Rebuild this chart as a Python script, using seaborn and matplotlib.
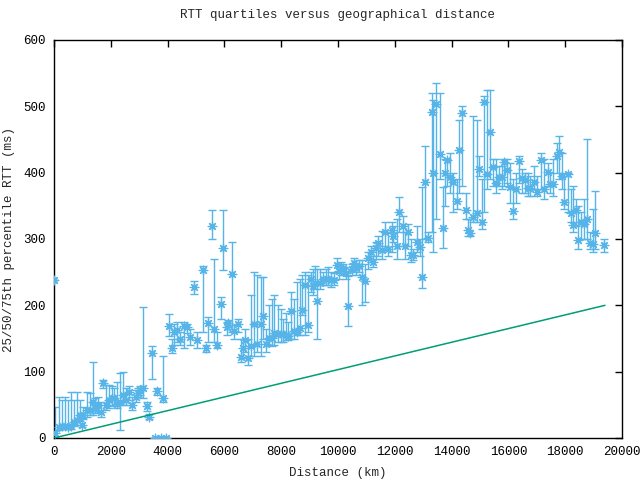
import matplotlib
matplotlib.use("Agg")
import matplotlib.pyplot as plt
import seaborn as sns
import pandas as pd

# distance (km), median RTT, 25th and 75th percentile (ms)
distance = [0, 35, 175, 280, 390, 490, 600, 700, 810, 920, 985, 1020, 1160, 1270, 1370, 1440, 1550, 1650,
            1730, 1830, 1940, 2040, 2110, 2220, 2320, 2430, 2530, 2640, 2750, 2890, 2960, 3030, 3130, 3270,
            3340, 3460, 3560, 3630, 3770, 3840, 3940, 4050, 4150, 4230, 4330, 4440, 4580, 4680, 4790, 4930,
            5040, 5250, 5350, 5420, 5560, 5630, 5740, 5880, 5950, 6090, 6130, 6270, 6340, 6480, 6580, 6650,
            6720, 6830, 6940, 7040, 7150, 7290, 7360, 7460, 7570, 7680, 7750, 7890, 7990, 8060, 8170, 8240,
            8350, 8450, 8560, 8660, 8730, 8840, 8950, 9050, 9120, 9190, 9260, 9370, 9470, 9580, 9650, 9750,
            9860, 9960, 10040, 10100, 10180, 10280, 10350, 10490, 10560, 10630, 10740, 10840, 10950, 11060,
            11160, 11230, 11340, 11410, 11550, 11650, 11760, 11900, 11940, 12080, 12150, 12290, 12360, 12460,
            12570, 12640, 12780, 12890, 12960, 13060, 13170, 13310, 13350, 13450, 13590, 13700, 13770, 13840,
            13940, 14050, 14190, 14260, 14370, 14500, 14580, 14650, 14750, 14890, 14960, 15070, 15140, 15250,
            15350, 15460, 15560, 15670, 15770, 15850, 15950, 16060, 16160, 16270, 16370, 16480, 16580, 16690,
            16760, 16900, 17010, 17150, 17250, 17390, 17460, 17570, 17710, 17780, 17890, 17960, 18100, 18200,
            18270, 18380, 18450, 18560, 18660, 18770, 18870, 18980, 19050, 19370]
rtt_median = [238, 7, 17, 18, 18, 17, 18, 24, 27, 35, 20, 35, 42, 42, 54, 45, 50, 39,
              83, 50, 57, 60, 60, 52, 54, 65, 57, 69, 50, 62, 68, 73, 75, 48,
              32, 128, 0, 71, 0, 60, 0, 169, 136, 160, 163, 149, 169, 167, 152, 228,
              148, 253, 136, 173, 320, 164, 140, 202, 286, 167, 173, 247, 162, 172, 122, 136,
              148, 121, 139, 172, 142, 172, 184, 142, 151, 151, 158, 157, 157, 157, 155, 154,
              191, 161, 160, 166, 193, 231, 171, 240, 229, 233, 206, 234, 240, 240, 240, 238,
              238, 261, 252, 255, 256, 249, 199, 255, 264, 256, 259, 243, 237, 271,
              281, 266, 286, 294, 283, 310, 285, 313, 305, 290, 341, 320, 290, 310,
              276, 276, 296, 288, 243, 386, 301, 492, 400, 504, 428, 317, 400, 419,
              394, 386, 357, 434, 490, 344, 314, 309, 333, 339, 406, 326, 507, 398,
              461, 409, 384, 394, 394, 416, 404, 379, 342, 375, 418, 392, 389, 377,
              377, 386, 371, 419, 375, 401, 383, 383, 425, 431, 395, 356, 398, 339,
              321, 344, 299, 326, 322, 330, 294, 292, 309, 291]
rtt_q25 = [238, 2, 12, 13, 14, 13, 14, 18, 20, 25, 16, 28, 32, 35, 35, 38, 40, 32,
           75, 42, 45, 48, 50, 45, 12, 50, 50, 58, 42, 55, 62, 65, 60, 40,
           28, 89, 0, 65, 0, 55, 0, 154, 128, 140, 145, 140, 135, 158, 140, 217,
           135, 160, 130, 145, 300, 145, 135, 180, 253, 155, 165, 160, 150, 160, 115, 120,
           130, 110, 124, 123, 130, 124, 150, 130, 140, 138, 140, 145, 145, 145, 148, 148,
           150, 150, 155, 155, 185, 155, 160, 220, 215, 225, 150, 225, 230, 230, 230, 228,
           230, 250, 240, 245, 245, 240, 169, 245, 250, 245, 250, 200, 205, 255,
           265, 258, 270, 275, 270, 290, 275, 280, 295, 270, 311, 290, 270, 290,
           265, 268, 280, 275, 226, 300, 295, 310, 280, 330, 390, 286, 350, 380,
           370, 340, 345, 370, 380, 330, 305, 305, 325, 325, 395, 315, 340, 375,
           390, 380, 370, 380, 375, 380, 385, 355, 330, 355, 385, 370, 370, 365,
           365, 375, 365, 375, 360, 380, 370, 365, 400, 390, 375, 345, 340, 325,
           310, 320, 285, 300, 300, 300, 285, 280, 285, 280]
rtt_q75 = [238, 47, 62, 57, 62, 57, 70, 57, 70, 57, 30, 47, 70, 68, 115, 60, 62, 55,
           88, 80, 80, 78, 75, 85, 98, 100, 75, 78, 62, 72, 75, 78, 198, 55,
           36, 139, 0, 75, 0, 123, 0, 187, 150, 172, 175, 160, 175, 172, 165, 237,
           160, 259, 140, 183, 344, 270, 160, 212, 344, 175, 178, 296, 170, 180, 150, 150,
           165, 150, 216, 251, 245, 243, 243, 165, 200, 210, 215, 200, 195, 180, 188, 175,
           220, 210, 235, 240, 245, 250, 245, 250, 255, 260, 255, 255, 250, 255, 258, 250,
           248, 272, 262, 265, 262, 258, 244, 262, 272, 262, 268, 268, 262, 280,
           290, 275, 295, 305, 312, 325, 310, 325, 320, 330, 363, 335, 310, 322,
           300, 285, 320, 300, 378, 440, 310, 520, 510, 535, 520, 378, 420, 420,
           430, 400, 390, 480, 500, 370, 330, 330, 485, 480, 425, 390, 515, 525,
           525, 420, 420, 410, 410, 420, 420, 415, 390, 400, 425, 405, 400, 400,
           395, 410, 395, 430, 420, 415, 400, 420, 445, 455, 430, 400, 400, 375,
           380, 360, 350, 340, 360, 450, 310, 345, 373, 300]
# speed-of-light-in-fibre lower bound
bound_distance = [0, 19400]
bound_rtt = [0, 200]

df = pd.DataFrame({"distance": distance, "median": rtt_median, "q25": rtt_q25, "q75": rtt_q75})

sns.set_theme(style="white")
plt.rcParams["font.family"] = ["Liberation Mono", "DejaVu Sans Mono"]

blue = "#56B4E9"
green = "#009E73"

fig = plt.figure(figsize=(6.4, 4.8), dpi=100)
ax = fig.add_axes([54 / 640, 42 / 480, 568 / 640, 398 / 480])

ax.errorbar(df["distance"], df["median"],
            yerr=[df["median"] - df["q25"], df["q75"] - df["median"]],
            fmt="none", ecolor=blue, elinewidth=1.0, capsize=3, capthick=1.0, zorder=2)
sns.scatterplot(data=df, x="distance", y="median", marker=(8, 2, 0), s=38,
                color=blue, edgecolor=blue, linewidth=0.9, ax=ax, zorder=3)
sns.lineplot(x=bound_distance, y=bound_rtt, color=green, linewidth=1.1, ax=ax, zorder=4)

ax.set_xlim(0, 20000)
ax.set_ylim(0, 600)
ax.set_xticks(range(0, 20001, 2000))
ax.set_yticks(range(0, 601, 100))
ax.tick_params(direction="in", length=5, width=1, top=True, right=True,
               labelsize=9, colors="black", pad=6)
for s in ax.spines.values():
    s.set_color("black")
    s.set_linewidth(1)
ax.set_xlabel("Distance (km)", fontsize=9, labelpad=6)
ax.set_ylabel("25/50/75th percentile RTT (ms)", fontsize=9, labelpad=6)
ax.set_title("RTT quartiles versus geographical distance", fontsize=9, pad=16)

fig.savefig("out.png", dpi=100)
